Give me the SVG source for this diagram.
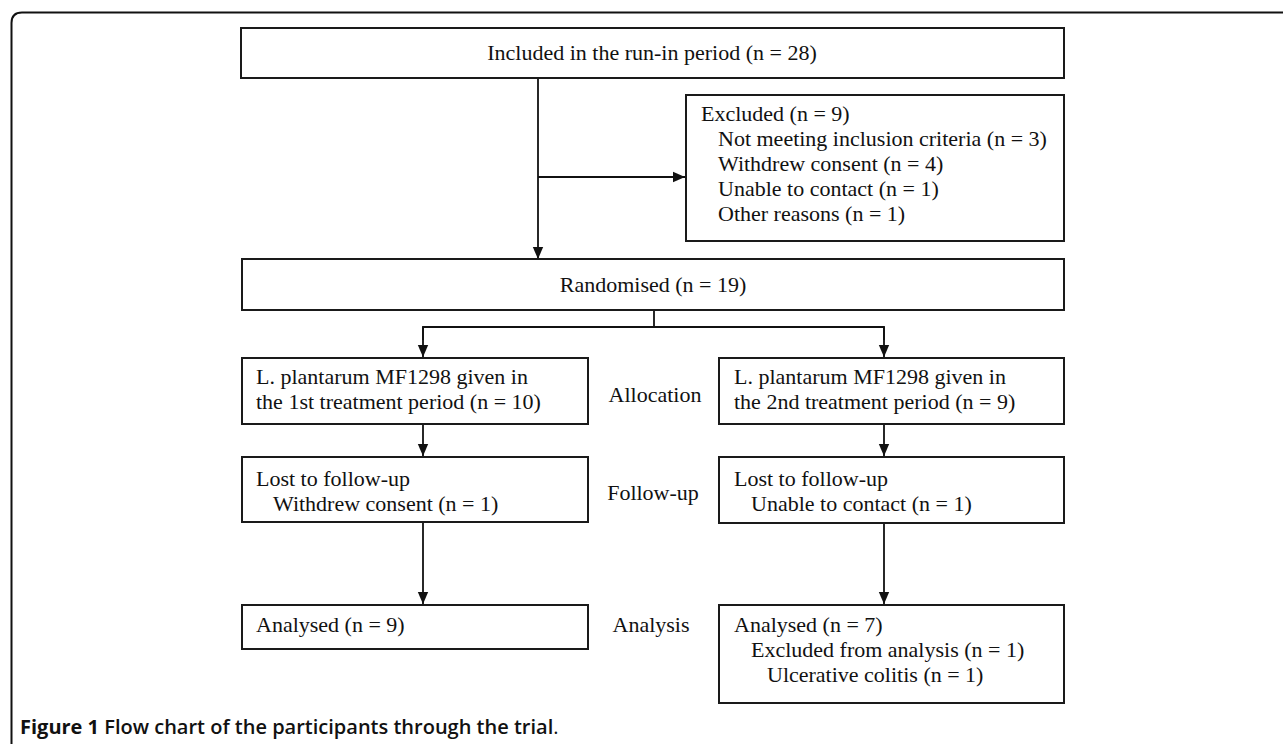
<svg xmlns="http://www.w3.org/2000/svg" width="1283" height="744" viewBox="0 0 1283 744">
<style>
.box{fill:#fff;stroke:#1a1a1a;stroke-width:2}
.t{font-family:"Liberation Serif","Times New Roman",serif;font-size:22px;fill:#111}
.m{text-anchor:middle}
.c{fill:none;stroke:#111;stroke-width:1.8}
.cap{font-family:"Open Sans","Noto Sans",sans-serif;font-size:20px;fill:#111}
</style>
<defs>
<marker id="ah" viewBox="0 0 12 12" refX="12" refY="6" markerWidth="12" markerHeight="12" markerUnits="userSpaceOnUse" orient="auto">
<path d="M0,0.8 L12,6 L0,11.2 Z" fill="#111"/>
</marker>
</defs>
<rect width="1283" height="744" fill="#fff"/>
<path d="M11.5,744 L11.5,23 Q11.5,12.5 22,12.5 L1283,12.5" fill="none" stroke="#111" stroke-width="2"/>

<g id="connectors">
<line class="c" x1="538" y1="78" x2="538" y2="259" marker-end="url(#ah)"/>
<line class="c" x1="538" y1="177" x2="685" y2="177" marker-end="url(#ah)"/>
<polyline class="c" points="654,310 654,327"/>
<polyline class="c" points="423,340 423,327 884,327 884,340"/>
<line class="c" x1="423" y1="327" x2="423" y2="357" marker-end="url(#ah)"/>
<line class="c" x1="884" y1="327" x2="884" y2="357" marker-end="url(#ah)"/>
<line class="c" x1="423" y1="424" x2="423" y2="456" marker-end="url(#ah)"/>
<line class="c" x1="884" y1="424" x2="884" y2="456" marker-end="url(#ah)"/>
<line class="c" x1="423" y1="523" x2="423" y2="604" marker-end="url(#ah)"/>
<line class="c" x1="884" y1="523" x2="884" y2="604" marker-end="url(#ah)"/>
</g>

<g id="included">
<rect class="box" x="241" y="28" width="823" height="50"/>
<text class="t m" x="652" y="60">Included in the run-in period (n = 28)</text>
</g>

<g id="excluded">
<rect class="box" x="686" y="95" width="378" height="146"/>
<text class="t" x="701" y="121">Excluded (n = 9)</text>
<text class="t" x="718" y="146">Not meeting inclusion criteria (n = 3)</text>
<text class="t" x="718" y="171">Withdrew consent (n = 4)</text>
<text class="t" x="718" y="196">Unable to contact (n = 1)</text>
<text class="t" x="718" y="221">Other reasons (n = 1)</text>
</g>

<g id="randomised">
<rect class="box" x="242" y="259" width="822" height="51"/>
<text class="t m" x="653" y="292">Randomised (n = 19)</text>
</g>

<g id="alloc-left">
<rect class="box" x="242" y="358" width="346" height="66"/>
<text class="t" x="256" y="384">L. plantarum MF1298 given in</text>
<text class="t" x="256" y="409">the 1st treatment period (n = 10)</text>
</g>

<g id="alloc-right">
<rect class="box" x="719" y="358" width="345" height="66"/>
<text class="t" x="734" y="384">L. plantarum MF1298 given in</text>
<text class="t" x="734" y="409">the 2nd treatment period (n = 9)</text>
</g>

<g id="label-allocation"><text class="t m" x="655" y="402">Allocation</text></g>

<g id="follow-left">
<rect class="box" x="242" y="457" width="346" height="65"/>
<text class="t" x="256" y="486">Lost to follow-up</text>
<text class="t" x="273" y="511">Withdrew consent (n = 1)</text>
</g>

<g id="follow-right">
<rect class="box" x="719" y="457" width="345" height="66"/>
<text class="t" x="734" y="486">Lost to follow-up</text>
<text class="t" x="751" y="511">Unable to contact (n = 1)</text>
</g>

<g id="label-followup"><text class="t m" x="653" y="500">Follow-up</text></g>

<g id="analysed-left">
<rect class="box" x="242" y="605" width="346" height="44"/>
<text class="t" x="256" y="632">Analysed (n = 9)</text>
</g>

<g id="analysed-right">
<rect class="box" x="719" y="605" width="345" height="98"/>
<text class="t" x="734" y="632">Analysed (n = 7)</text>
<text class="t" x="751" y="657">Excluded from analysis (n = 1)</text>
<text class="t" x="767" y="682">Ulcerative colitis (n = 1)</text>
</g>

<g id="label-analysis"><text class="t m" x="651" y="632">Analysis</text></g>

<text class="cap" x="20" y="734"><tspan font-weight="700">Figure 1</tspan><tspan font-weight="600"> Flow chart of the participants through the trial</tspan><tspan font-weight="400">.</tspan></text>
</svg>
